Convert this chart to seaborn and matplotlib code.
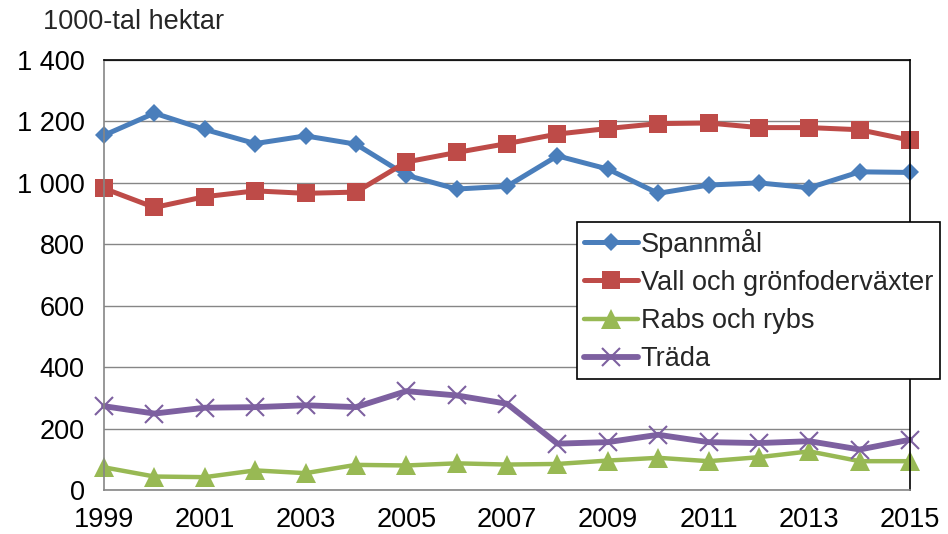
import pandas as pd
import matplotlib
matplotlib.use("Agg")
import matplotlib.pyplot as plt
import seaborn as sns
from matplotlib.ticker import FuncFormatter, MultipleLocator

years = list(range(1999, 2016))
spannmal = [1155, 1227, 1174, 1128, 1153, 1126, 1025, 980, 989, 1088, 1045, 966, 993, 1000, 984, 1036, 1034]
vall = [982, 920, 955, 974, 966, 970, 1068, 1099, 1128, 1159, 1177, 1193, 1195, 1180, 1180, 1173, 1139]
rabs = [74, 44, 42, 64, 55, 82, 80, 87, 83, 85, 96, 105, 94, 107, 126, 94, 94]
trada = [273, 249, 268, 270, 276, 270, 322, 308, 281, 151, 156, 180, 156, 153, 159, 132, 164]

series_names = ["Spannmål", "Vall och grönfoderväxter", "Rabs och rybs", "Träda"]
series_values = [spannmal, vall, rabs, trada]

df = pd.concat(
    [pd.DataFrame({"year": years, "value": v, "series": n}) for n, v in zip(series_names, series_values)],
    ignore_index=True,
)

sns.set_style("white")
plt.rcParams["font.family"] = ["Liberation Sans", "DejaVu Sans"]

styles = {
    "Spannmål": dict(color="#4A7EBB", marker="D", markersize=9.5, linewidth=3.6, markeredgewidth=0),
    "Vall och grönfoderväxter": dict(color="#BE4B48", marker="s", markersize=13.5, linewidth=3.6, markeredgewidth=0),
    "Rabs och rybs": dict(color="#98B954", marker="^", markersize=14, linewidth=3.2, markeredgewidth=0),
    "Träda": dict(color="#7D60A0", marker="x", markersize=13, linewidth=4.2, markeredgewidth=1.5),
}

FS = 19.5

fig = plt.figure(figsize=(9.48, 5.34), dpi=100)
ax = fig.add_axes([0.1097, 0.0823, 0.8503, 0.8053])

for name in series_names:
    st = styles[name]
    sns.lineplot(data=df[df["series"] == name], x="year", y="value", ax=ax, label=name,
                 color=st["color"], marker=st["marker"], markersize=st["markersize"],
                 linewidth=st["linewidth"], markeredgewidth=st["markeredgewidth"],
                 markeredgecolor=st["color"], solid_joinstyle="round", clip_on=False)

ax.set_xlim(1999, 2015)
ax.set_ylim(0, 1400)
ax.yaxis.set_major_locator(MultipleLocator(200))
ax.yaxis.set_major_formatter(FuncFormatter(lambda v, p: f"{int(v):,}".replace(",", " ")))
ax.set_xticks(years)
ax.set_xticklabels([str(y) if y % 2 == 1 else "" for y in years])
ax.grid(axis="y", color="#868686", linewidth=1)
ax.set_axisbelow(True)
ax.set_xlabel("")
ax.set_ylabel("")

for side in ["left", "bottom"]:
    ax.spines[side].set_color("#868686")
    ax.spines[side].set_linewidth(1.2)
for side in ["top", "right"]:
    ax.spines[side].set_color("black")
    ax.spines[side].set_linewidth(1.2)

ax.tick_params(axis="both", which="major", direction="out", length=5, width=1,
               color="#868686", labelsize=FS, labelcolor="black")
ax.tick_params(axis="x", pad=7)
ax.tick_params(axis="y", pad=9)

leg = ax.legend(loc="upper left", bbox_to_anchor=(577 / 948, 1 - 222 / 534),
                bbox_transform=fig.transFigure, fontsize=FS, frameon=True, fancybox=False,
                edgecolor="black", framealpha=1, handlelength=2.0, handletextpad=0.1,
                labelspacing=0.45, borderpad=0.25, borderaxespad=0)
leg.get_frame().set_linewidth(1.2)

fig.text(43 / 948, 1 - 22 / 534, "1000-tal hektar", fontsize=FS, va="center", ha="left")

fig.savefig("out.png", dpi=100)
